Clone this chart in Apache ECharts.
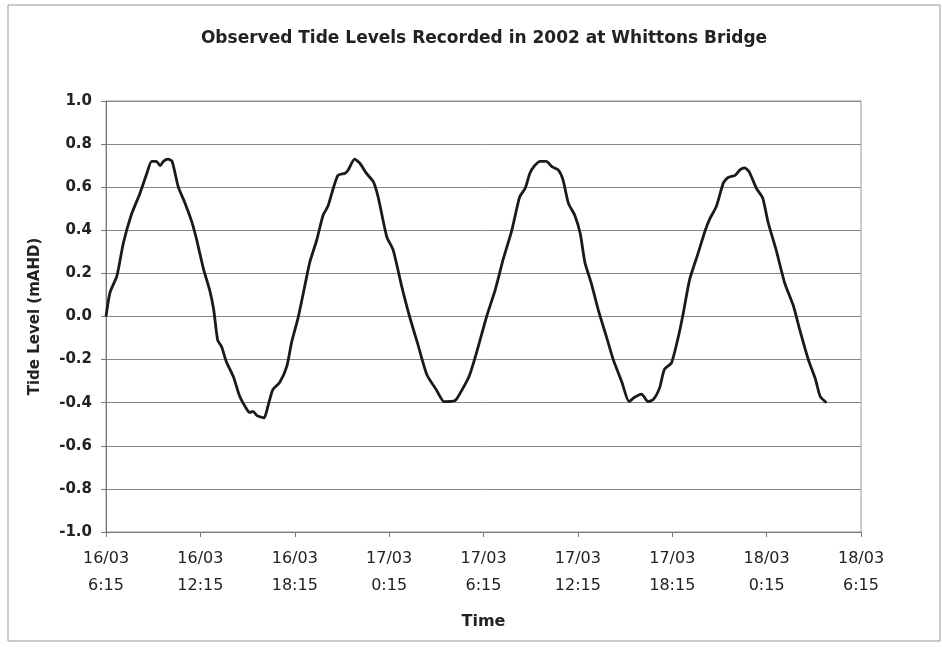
<!DOCTYPE html>
<html>
<head>
<meta charset="utf-8">
<title>Observed Tide Levels</title>
<script src="https://cdn.jsdelivr.net/npm/echarts@6/dist/echarts.min.js"></script>
<style>
  html, body { margin: 0; padding: 0; background: #fff; }
  #chart { width: 942px; height: 647px; }
</style>
</head>
<body>
<div id="chart"></div>
<script>
// hours after 16/03 6:15
var hours = [0.0, 0.25, 0.7, 1.1, 1.6, 2.15, 2.6, 2.9, 3.2, 3.45, 3.65, 3.95, 4.2, 4.6, 5.0, 5.45, 5.75, 6.2, 6.6, 6.85,
  7.1, 7.35, 7.65, 8.1, 8.5, 8.95, 9.15, 9.35, 9.6, 10.05, 10.3, 10.6, 11.05, 11.5, 11.8, 12.2, 12.55, 12.95, 13.4, 13.8,
  14.1, 14.45, 14.75, 15.2, 15.4, 15.8, 16.15, 16.55, 17.0, 17.3, 17.85, 18.25, 18.8, 19.3, 19.85, 20.4, 21.0, 21.5, 22.2, 22.6,
  23.1, 23.55, 24.2, 24.75, 25.25, 25.8, 26.3, 26.65, 26.95, 27.25, 27.6, 28.0, 28.35, 28.75, 29.05, 29.4, 29.8, 30.15, 30.45, 30.85,
  31.3, 31.8, 32.25, 32.8, 33.25, 33.6, 34.05, 34.45, 34.8, 35.2, 35.5, 35.95, 36.4, 36.7, 37.1, 37.65, 38.1, 38.4, 38.8, 39.25,
  39.55, 40.0, 40.3, 40.6, 40.9, 41.35, 41.75, 42.1, 42.6, 43.15, 43.7, 44.1, 44.65, 45.1, 45.4, 45.8];
// tide level (mAHD)
var levels = [0.00, 0.11, 0.19, 0.34, 0.47, 0.57, 0.665, 0.72, 0.72, 0.70, 0.72, 0.73, 0.72, 0.60, 0.53, 0.44, 0.36, 0.22, 0.12, 0.03,
  -0.11, -0.14, -0.21, -0.28, -0.37, -0.43, -0.445, -0.44, -0.46, -0.47, -0.415, -0.34, -0.305, -0.23, -0.12, -0.01, 0.11, 0.25, 0.355, 0.47,
  0.51, 0.595, 0.655, 0.665, 0.68, 0.73, 0.71, 0.665, 0.625, 0.555, 0.37, 0.31, 0.14, 0.00, -0.135, -0.27, -0.34, -0.395, -0.39, -0.345,
  -0.275, -0.17, 0.00, 0.125, 0.265, 0.40, 0.555, 0.595, 0.665, 0.70, 0.72, 0.72, 0.695, 0.68, 0.635, 0.525, 0.47, 0.385, 0.25, 0.155,
  0.03, -0.09, -0.20, -0.305, -0.395, -0.375, -0.36, -0.395, -0.385, -0.33, -0.245, -0.215, -0.09, 0.015, 0.17, 0.295, 0.40, 0.455, 0.51, 0.62,
  0.645, 0.655, 0.68, 0.69, 0.67, 0.595, 0.55, 0.435, 0.31, 0.155, 0.05, -0.06, -0.20, -0.29, -0.37, -0.40];
// x tick labels, one every 6 hours
var tickLabels = ['16/03\n6:15', '16/03\n12:15', '16/03\n18:15', '17/03\n0:15', '17/03\n6:15',
  '17/03\n12:15', '17/03\n18:15', '18/03\n0:15', '18/03\n6:15'];

var points = hours.map(function (h, i) { return [h, levels[i]]; });

var myChart = echarts.init(document.getElementById('chart'));
var option = {
  backgroundColor: '#fff',
  animation: false,
  textStyle: { fontFamily: 'DejaVu Sans, sans-serif' },
  // outer chart frame
  graphic: [{
    type: 'rect',
    shape: { x: 8, y: 5, width: 932, height: 636 },
    style: { fill: 'none', stroke: '#999', lineWidth: 1 },
    silent: true
  }],
  title: {
    text: 'Observed Tide Levels Recorded in 2002 at Whittons Bridge',
    left: 479,
    textAlign: 'center',
    top: 25,
    textStyle: { fontSize: 17, fontWeight: 'bold', color: '#222' }
  },
  grid: {
    left: 106, right: 81, top: 101, bottom: 115,
    show: true,
    borderColor: '#999',
    borderWidth: 1
  },
  xAxis: {
    type: 'value',
    min: 0, max: 48, interval: 6,
    name: 'Time',
    nameLocation: 'middle',
    nameGap: 82,
    nameTextStyle: { fontSize: 16, fontWeight: 'bold', color: '#222' },
    axisLine: { onZero: false, lineStyle: { color: '#777' } },
    axisTick: { show: true, length: 5, lineStyle: { color: '#777' } },
    splitLine: { show: false },
    axisLabel: {
      color: '#222', fontSize: 16, lineHeight: 27, margin: 13,
      formatter: function (v) { return tickLabels[Math.round(v / 6)]; }
    }
  },
  yAxis: {
    type: 'value',
    min: -1, max: 1, interval: 0.2,
    name: 'Tide Level (mAHD)',
    nameLocation: 'middle',
    nameGap: 63,
    nameTextStyle: { fontSize: 15, fontWeight: 'bold', color: '#222' },
    axisLine: { show: true, lineStyle: { color: '#777' } },
    axisTick: { show: true, length: 5, lineStyle: { color: '#777' } },
    splitLine: { lineStyle: { color: '#888', width: 1 } },
    axisLabel: {
      color: '#222', fontSize: 15, fontWeight: 'bold', margin: 14,
      formatter: function (v) { return v.toFixed(1); }
    }
  },
  series: [{
    type: 'line',
    data: points,
    showSymbol: false,
    smooth: 0.2,
    lineStyle: { color: '#1a1a1a', width: 2.8 }
  }]
};
myChart.setOption(option);
</script>
</body>
</html>
